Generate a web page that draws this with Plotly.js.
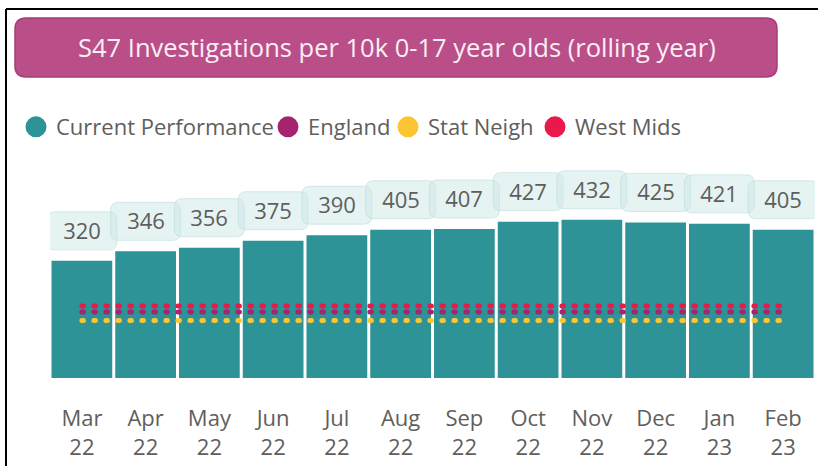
<!DOCTYPE html>
<html>
<head>
<meta charset="utf-8">
<script src="https://cdn.plot.ly/plotly-3.0.1.min.js"></script>
<style>
html,body{margin:0;padding:0;background:#fff;}
#chart{width:818px;height:466px;}
#chart .scatterlayer path.js-line{stroke-linecap:round;}
</style>
</head>
<body>
<div id="chart"></div>
<script>
// ---- data ----
const months = ["Mar<br>22","Apr<br>22","May<br>22","Jun<br>22","Jul<br>22","Aug<br>22","Sep<br>22","Oct<br>22","Nov<br>22","Dec<br>22","Jan<br>23","Feb<br>23"];
const currentPerformance = [320,346,356,375,390,405,407,427,432,425,421,405];
const england   = [180,180,180,180,180,180,180,180,180,180,180,180];
const statNeigh = [157,157,157,157,157,157,157,157,157,157,157,157];
const westMids  = [197,197,197,197,197,197,197,197,197,197,197,197];
const seriesNames = ["Current Performance","England","Stat Neigh","West Mids"];
const titleText = "S47 Investigations per 10k 0-17 year olds (rolling year)";

// ---- layout helpers ----
const W = 818, H = 466;
const M = {l:50, r:3, t:150, b:88, autoexpand:false};
const PW = W - M.l - M.r, PH = H - M.t - M.b;
const Y_MAX = PH * 478 / 175;   // keeps 175px per 478 units
const px = x => (x - M.l) / PW;
const py = y => (H - M.b - y) / PH;
function roundRect(x0, y0, x1, y1, r) {
  const X = v => px(v).toFixed(5), Y = v => py(v).toFixed(5);
  return `M${X(x0+r)},${Y(y0)} L${X(x1-r)},${Y(y0)} Q${X(x1)},${Y(y0)} ${X(x1)},${Y(y0+r)} ` +
         `L${X(x1)},${Y(y1-r)} Q${X(x1)},${Y(y1)} ${X(x1-r)},${Y(y1)} L${X(x0+r)},${Y(y1)} ` +
         `Q${X(x0)},${Y(y1)} ${X(x0)},${Y(y1-r)} L${X(x0)},${Y(y0+r)} Q${X(x0)},${Y(y0)} ${X(x0+r)},${Y(y0)} Z`;
}
// rounded label box in pixel offsets (y positive = up) around an anchor
const LB = {w:70, h:38, gap:11, r:8};
const labelBoxPath = (() => {
  const a = LB.w/2, b0 = LB.gap, b1 = LB.gap + LB.h, r = LB.r;
  return `M${-a+r},${b0} L${a-r},${b0} Q${a},${b0} ${a},${b0+r} L${a},${b1-r} Q${a},${b1} ${a-r},${b1} ` +
         `L${-a+r},${b1} Q${-a},${b1} ${-a},${b1-r} L${-a},${b0+r} Q${-a},${b0} ${-a+r},${b0} Z`;
})();

const FONT = "'Open Sans', 'Noto Sans', sans-serif";
const TXT = "#605e5c";
const dotDash = "1.5px,10.5px";
const colors = ["#2e9396","#a6246f","#fcc534","#e81a4b"];

const traces = [
  {type:"bar", name:seriesNames[0], x:months, y:currentPerformance,
   marker:{color:colors[0], line:{width:0}}, showlegend:false},
  {type:"scatter", mode:"lines", name:seriesNames[1], x:months, y:england,
   line:{color:colors[1], width:5, dash:dotDash}, showlegend:false},
  {type:"scatter", mode:"lines", name:seriesNames[2], x:months, y:statNeigh,
   line:{color:colors[2], width:5, dash:dotDash}, showlegend:false},
  {type:"scatter", mode:"lines", name:seriesNames[3], x:months, y:westMids,
   line:{color:colors[3], width:5, dash:dotDash}, showlegend:false}
];
// legend entries drawn as circles, one legend box per entry
const legendIds = ["legend","legend2","legend3","legend4"];
const legendLeft = [16, 268, 388, 535];
seriesNames.forEach((n,i) => traces.push({
  type:"scatter", mode:"markers", name:n, x:[null], y:[null], showlegend:true,
  legend: legendIds[i],
  marker:{symbol:"circle", size:16, color:colors[i], line:{color:colors[i], width:5}},
  hoverinfo:"skip"
}));

const annotations = currentPerformance.map((v,i) => ({
  x: months[i], y: v, xref:"x", yref:"y", text: String(v), showarrow:false,
  yanchor:"bottom", yshift: LB.gap, width: LB.w, height: LB.h, borderpad: 0,
  font:{family:FONT, size:22, color:TXT}
}));
annotations.push({
  x: px(397), y: py(47), xref:"paper", yref:"paper", text: titleText, showarrow:false,
  xanchor:"center", yanchor:"middle", font:{family:FONT, size:25.5, color:"#fbeef5"}
});

const shapes = [
  {type:"path", xref:"paper", yref:"paper", path: roundRect(15,18,777,77,11),
   fillcolor:"#ba4e88", line:{color:"#a83c78", width:1.5}, layer:"below"},
  {type:"line", xref:"paper", yref:"paper", x0:px(6), x1:px(818), y0:py(9), y1:py(9),
   line:{color:"#000", width:2}},
  {type:"line", xref:"paper", yref:"paper", x0:px(6), x1:px(6), y0:py(9), y1:py(466),
   line:{color:"#000", width:2}}
];
currentPerformance.forEach((v,i) => shapes.push({
  type:"path", xref:"x", yref:"y", xsizemode:"pixel", ysizemode:"pixel",
  xanchor: months[i], yanchor: v, path: labelBoxPath,
  fillcolor:"rgba(206,231,231,0.5)", line:{color:"rgba(184,216,216,0.55)", width:1}, layer:"above"
}));

const layout = {
  width:W, height:H, margin:M, paper_bgcolor:"#fff", plot_bgcolor:"#fff",
  font:{family:FONT, color:TXT},
  bargap:0.047,
  showlegend:true,
  xaxis:{type:"category", range:[-0.5, 11.5], autorange:false, showgrid:false, zeroline:false,
         showline:false, ticks:"", tickfont:{family:FONT, size:22, color:TXT},
         ticklabelstandoff:25, fixedrange:true},
  yaxis:{range:[0, Y_MAX], autorange:false, visible:false, showgrid:false, zeroline:false, fixedrange:true},
  annotations, shapes
};
legendIds.forEach((id,i) => {
  layout[id] = {orientation:"h", x:px(legendLeft[i]), xanchor:"left", y:py(127), yanchor:"middle",
    font:{family:FONT, size:22, color:TXT}, itemwidth:30, bgcolor:"rgba(0,0,0,0)", borderwidth:0};
});

Plotly.newPlot("chart", traces, layout, {displayModeBar:false, staticPlot:true});
</script>
</body>
</html>
